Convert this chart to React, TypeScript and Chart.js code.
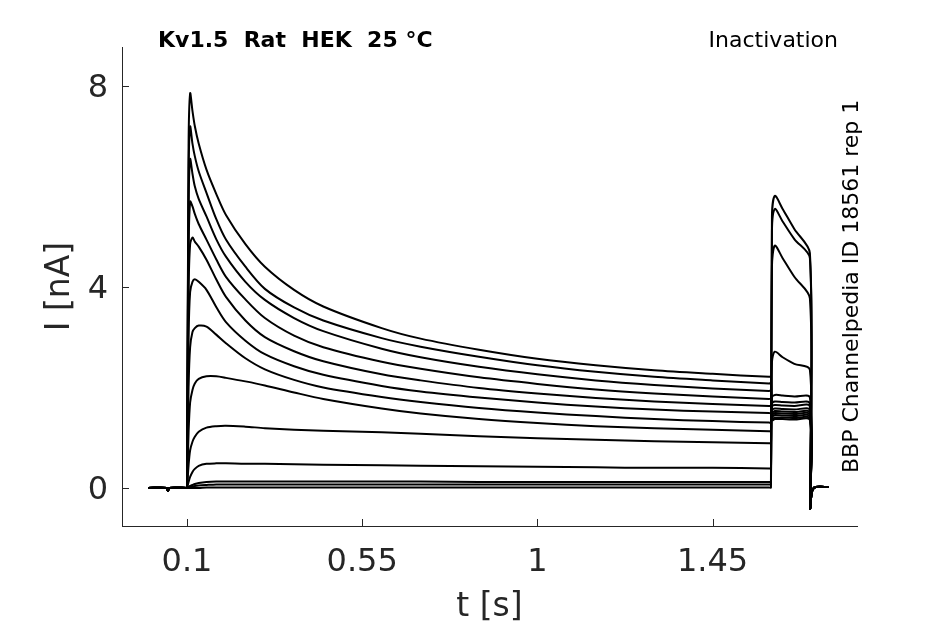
import { useEffect, useRef } from "react";
import { Chart, registerables } from "chart.js";

Chart.register(...registerables);

const FONT = "'DejaVu Sans', sans-serif";
const INK = "#262626";

const TITLE = "Kv1.5  Rat  HEK  25 °C";
const PROTOCOL = "Inactivation";
const SOURCE = "BBP Channelpedia ID 18561 rep 1";

const X_TICKS = [0.1, 0.55, 1, 1.45];
const Y_TICKS = [0, 4, 8];

// holding before the step
const PRE_T = [0, 0.048, 0.051, 0.054, 0.099];
const PRE_I = [0, 0, -0.06, 0, 0];

// prepulse, one array per sweep (largest first)
const PULSE_T = [0.1, 0.104, 0.108, 0.114, 0.12, 0.13, 0.15, 0.175, 0.2, 0.25, 0.3, 0.375, 0.45, 0.6, 0.7, 0.85, 1.0, 1.15, 1.3, 1.45, 1.595, 1.6];
const SWEEP_01 = [0, 6.8, 7.85, 7.5, 7.2, 6.85, 6.33, 5.85, 5.43, 4.85, 4.4, 3.94, 3.61, 3.18, 2.97, 2.75, 2.57, 2.44, 2.34, 2.27, 2.21, 2.21];
const SWEEP_02 = [0, 6.2, 7.19, 6.85, 6.6, 6.3, 5.87, 5.35, 4.94, 4.4, 3.96, 3.59, 3.33, 2.98, 2.81, 2.61, 2.44, 2.31, 2.21, 2.14, 2.08, 2.08];
const SWEEP_03 = [0, 5.6, 6.54, 6.25, 6.0, 5.75, 5.4, 4.95, 4.6, 4.1, 3.74, 3.38, 3.12, 2.77, 2.6, 2.41, 2.26, 2.14, 2.05, 1.98, 1.93, 1.93];
const SWEEP_04 = [0, 4.7, 5.7, 5.6, 5.45, 5.25, 4.94, 4.55, 4.2, 3.75, 3.38, 3.03, 2.8, 2.51, 2.37, 2.2, 2.07, 1.96, 1.88, 1.82, 1.77, 1.77];
const SWEEP_05 = [0, 3.9, 4.85, 4.98, 4.9, 4.8, 4.54, 4.15, 3.8, 3.33, 3.0, 2.72, 2.52, 2.26, 2.14, 1.99, 1.88, 1.79, 1.72, 1.67, 1.63, 1.63];
const SWEEP_06 = [0, 3.0, 3.9, 4.1, 4.15, 4.1, 3.94, 3.6, 3.3, 2.93, 2.66, 2.42, 2.25, 2.03, 1.92, 1.8, 1.7, 1.62, 1.56, 1.52, 1.49, 1.49];
const SWEEP_07 = [0, 2.0, 2.8, 3.1, 3.18, 3.23, 3.21, 3.05, 2.88, 2.58, 2.36, 2.15, 2.0, 1.81, 1.71, 1.59, 1.5, 1.43, 1.37, 1.33, 1.3, 1.3];
const SWEEP_08 = [0, 1.1, 1.7, 1.95, 2.08, 2.17, 2.22, 2.22, 2.19, 2.12, 2.04, 1.9, 1.77, 1.58, 1.48, 1.37, 1.29, 1.23, 1.19, 1.16, 1.13, 1.13];
const SWEEP_09 = [0, 0.45, 0.75, 0.92, 1.02, 1.12, 1.2, 1.23, 1.24, 1.22, 1.19, 1.16, 1.14, 1.11, 1.08, 1.03, 0.99, 0.96, 0.93, 0.91, 0.89, 0.89];
const SWEEP_10 = [0, 0.12, 0.22, 0.32, 0.38, 0.44, 0.48, 0.49, 0.49, 0.48, 0.48, 0.47, 0.46, 0.45, 0.44, 0.43, 0.42, 0.41, 0.4, 0.4, 0.39, 0.39];
const SWEEP_11 = [0, 0.02, 0.04, 0.06, 0.08, 0.1, 0.12, 0.13, 0.13, 0.13, 0.13, 0.13, 0.13, 0.13, 0.13, 0.12, 0.12, 0.12, 0.12, 0.12, 0.12, 0.12];
const SWEEP_12 = [0, 0.01, 0.02, 0.03, 0.04, 0.05, 0.06, 0.07, 0.07, 0.07, 0.07, 0.07, 0.07, 0.07, 0.07, 0.07, 0.07, 0.07, 0.07, 0.07, 0.07, 0.07];
const SWEEP_13 = [0, 0, 0, 0, 0, 0, 0.01, 0.01, 0.01, 0.01, 0.01, 0.01, 0.01, 0.01, 0.01, 0.01, 0.01, 0.01, 0.01, 0.01, 0.01, 0.01];

// test pulse
const TAIL_T = [1.6025, 1.61, 1.63, 1.66, 1.7];
const TAIL_01 = [1.35, 1.37, 1.37, 1.36, 1.35];
const TAIL_02 = [1.38, 1.4, 1.4, 1.39, 1.38];
const TAIL_03 = [1.42, 1.45, 1.44, 1.43, 1.42];
const TAIL_04 = [1.46, 1.49, 1.48, 1.47, 1.46];
const TAIL_05 = [1.5, 1.53, 1.52, 1.51, 1.5];
const TAIL_06 = [1.55, 1.58, 1.57, 1.56, 1.55];
const TAIL_07 = [1.62, 1.65, 1.64, 1.63, 1.62];
const TAIL_08 = [1.68, 1.72, 1.71, 1.7, 1.68];
const TAIL_09 = [1.8, 1.85, 1.84, 1.82, 1.8];
const TAIL_10 = [2.5, 2.71, 2.6, 2.47, 2.35];
const TAIL_11 = [4.4, 4.82, 4.57, 4.2, 3.77];
const TAIL_12 = [5.1, 5.55, 5.3, 4.95, 4.57];
const TAIL_13 = [5.4, 5.81, 5.55, 5.15, 4.67];

// back to holding
const POST_T = [1.7005, 1.704, 1.708, 1.715, 1.748];
const POST_I = [-0.4, -0.12, -0.02, 0.02, 0.02];

const SWEEPS = [SWEEP_01, SWEEP_02, SWEEP_03, SWEEP_04, SWEEP_05, SWEEP_06, SWEEP_07, SWEEP_08, SWEEP_09, SWEEP_10, SWEEP_11, SWEEP_12, SWEEP_13];
const TAILS = [TAIL_01, TAIL_02, TAIL_03, TAIL_04, TAIL_05, TAIL_06, TAIL_07, TAIL_08, TAIL_09, TAIL_10, TAIL_11, TAIL_12, TAIL_13];

function buildTrace(sweep: number[], tail: number[]) {
  const pts: { x: number; y: number }[] = [];
  PRE_T.forEach((t, i) => pts.push({ x: t, y: PRE_I[i] }));
  PULSE_T.forEach((t, i) => pts.push({ x: t, y: sweep[i] }));
  TAIL_T.forEach((t, i) => pts.push({ x: t, y: tail[i] }));
  POST_T.forEach((t, i) => pts.push({ x: t, y: POST_I[i] }));
  return pts;
}

const decorations = {
  id: "decorations",
  afterDraw(chart: any) {
    const { ctx, chartArea: a, scales } = chart;
    ctx.save();
    // inward tick marks
    ctx.strokeStyle = INK;
    ctx.lineWidth = 1;
    ctx.beginPath();
    X_TICKS.forEach((v) => {
      const px = Math.round(scales.x.getPixelForValue(v)) + 0.5;
      ctx.moveTo(px, a.bottom);
      ctx.lineTo(px, a.bottom - 7);
    });
    Y_TICKS.forEach((v) => {
      const py = Math.round(scales.y.getPixelForValue(v)) + 0.5;
      ctx.moveTo(a.left, py);
      ctx.lineTo(a.left + 7, py);
    });
    ctx.stroke();

    ctx.fillStyle = "#000";
    ctx.textBaseline = "alphabetic";
    ctx.font = `bold 22px ${FONT}`;
    ctx.textAlign = "left";
    ctx.fillText(TITLE, 158, 47);
    ctx.font = `22px ${FONT}`;
    ctx.textAlign = "right";
    ctx.fillText(PROTOCOL, 838, 47);
    ctx.translate(858, 473);
    ctx.rotate(-Math.PI / 2);
    ctx.textAlign = "left";
    ctx.fillText(SOURCE, 0, 0);
    ctx.restore();
  },
};

export default function App() {
  const canvasRef = useRef<HTMLCanvasElement>(null);

  useEffect(() => {
    if (!canvasRef.current) return;

    const datasets = SWEEPS.map((s, i) => ({
      label: `sweep ${i + 1}`,
      data: buildTrace(s, TAILS[i]),
      showLine: true,
      borderColor: "#000",
      borderWidth: 2,
      pointRadius: 0,
      tension: 0.3,
      fill: false,
    }));

    const chart = new Chart(canvasRef.current, {
      type: "scatter",
      data: { datasets },
      plugins: [decorations],
      options: {
        animation: false,
        responsive: true,
        maintainAspectRatio: false,
        layout: { padding: { left: 0, right: 88, top: 47, bottom: 0 } },
        plugins: {
          legend: { display: false },
          tooltip: { enabled: false },
        },
        scales: {
          x: {
            type: "linear",
            min: -0.067,
            max: 1.821,
            afterBuildTicks: (scale: any) => {
              scale.ticks = X_TICKS.map((v) => ({ value: v }));
            },
            afterFit: (scale: any) => {
              scale.height = 98;
            },
            ticks: {
              color: INK,
              font: { family: FONT, size: 32 },
              padding: 17,
              maxRotation: 0,
              autoSkip: false,
              callback: (v: any) => String(v),
            },
            grid: { display: true, drawOnChartArea: false, drawTicks: false },
            border: { display: true, color: INK, width: 1 },
            title: {
              display: true,
              text: "t [s]",
              color: INK,
              font: { family: FONT, size: 33, lineHeight: 1 },
              padding: { top: 0, bottom: 0 },
            },
          },
          y: {
            type: "linear",
            min: -0.756,
            max: 8.77,
            afterBuildTicks: (scale: any) => {
              scale.ticks = Y_TICKS.map((v) => ({ value: v }));
            },
            afterFit: (scale: any) => {
              scale.width = 122;
            },
            ticks: {
              color: INK,
              font: { family: FONT, size: 32 },
              padding: 14,
              labelOffset: 3,
              autoSkip: false,
              callback: (v: any) => String(v),
            },
            grid: { display: true, drawOnChartArea: false, drawTicks: false },
            border: { display: true, color: INK, width: 1 },
            title: {
              display: true,
              text: "I [nA]",
              color: INK,
              font: { family: FONT, size: 33, lineHeight: 1 },
              padding: { top: 44, bottom: 0 },
            },
          },
        },
      },
    });

    return () => {
      chart.destroy();
    };
  }, []);

  return (
    <div style={{ position: "absolute", left: 0, top: 0, width: 945, height: 624, background: "#fff" }}>
      <canvas ref={canvasRef} />
    </div>
  );
}
